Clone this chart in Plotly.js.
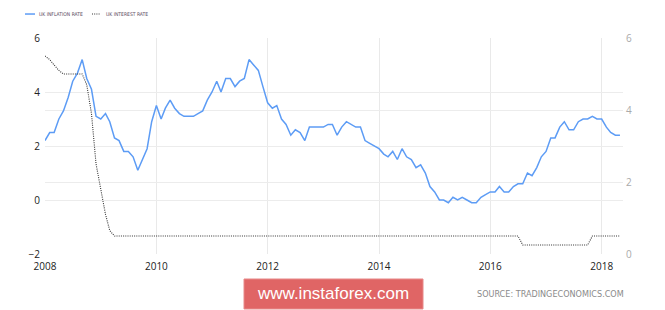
<!DOCTYPE html>
<html>
<head>
<meta charset="utf-8">
<script src="https://cdn.plot.ly/plotly-3.0.1.min.js"></script>
<style>
  html, body { margin: 0; padding: 0; background: #fff; }
  #chart { width: 665px; height: 310px; }
</style>
</head>
<body>
<div id="chart"></div>
<script>
// ---- Data (monthly, Jan 2008 – May 2018) ----
const startYear = 2008;
const inflation2008 = [2.2, 2.5, 2.5, 3.0, 3.3, 3.8, 4.4, 4.7, 5.2, 4.5, 4.1, 3.1];
const inflation2009 = [3.0, 3.2, 2.9, 2.3, 2.2, 1.8, 1.8, 1.6, 1.1, 1.5, 1.9, 2.9];
const inflation2010 = [3.5, 3.0, 3.4, 3.7, 3.4, 3.2, 3.1, 3.1, 3.1, 3.2, 3.3, 3.7];
const inflation2011 = [4.0, 4.4, 4.0, 4.5, 4.5, 4.2, 4.4, 4.5, 5.2, 5.0, 4.8, 4.2];
const inflation2012 = [3.6, 3.4, 3.5, 3.0, 2.8, 2.4, 2.6, 2.5, 2.2, 2.7, 2.7, 2.7];
const inflation2013 = [2.7, 2.8, 2.8, 2.4, 2.7, 2.9, 2.8, 2.7, 2.7, 2.2, 2.1, 2.0];
const inflation2014 = [1.9, 1.7, 1.6, 1.8, 1.5, 1.9, 1.6, 1.5, 1.2, 1.3, 1.0, 0.5];
const inflation2015 = [0.3, 0.0, 0.0, -0.1, 0.1, 0.0, 0.1, 0.0, -0.1, -0.1, 0.1, 0.2];
const inflation2016 = [0.3, 0.3, 0.5, 0.3, 0.3, 0.5, 0.6, 0.6, 1.0, 0.9, 1.2, 1.6];
const inflation2017 = [1.8, 2.3, 2.3, 2.7, 2.9, 2.6, 2.6, 2.9, 3.0, 3.0, 3.1, 3.0];
const inflation2018 = [3.0, 2.7, 2.5, 2.4, 2.4];

const interest2008 = [5.5, 5.4, 5.25, 5.1, 5.0, 5.0, 5.0, 5.0, 5.0, 4.7, 3.9, 2.5];
const interest2009 = [1.75, 1.1, 0.65, 0.5, 0.5, 0.5, 0.5, 0.5, 0.5, 0.5, 0.5, 0.5];
const interest2010 = [0.5, 0.5, 0.5, 0.5, 0.5, 0.5, 0.5, 0.5, 0.5, 0.5, 0.5, 0.5];
const interest2011 = [0.5, 0.5, 0.5, 0.5, 0.5, 0.5, 0.5, 0.5, 0.5, 0.5, 0.5, 0.5];
const interest2012 = [0.5, 0.5, 0.5, 0.5, 0.5, 0.5, 0.5, 0.5, 0.5, 0.5, 0.5, 0.5];
const interest2013 = [0.5, 0.5, 0.5, 0.5, 0.5, 0.5, 0.5, 0.5, 0.5, 0.5, 0.5, 0.5];
const interest2014 = [0.5, 0.5, 0.5, 0.5, 0.5, 0.5, 0.5, 0.5, 0.5, 0.5, 0.5, 0.5];
const interest2015 = [0.5, 0.5, 0.5, 0.5, 0.5, 0.5, 0.5, 0.5, 0.5, 0.5, 0.5, 0.5];
const interest2016 = [0.5, 0.5, 0.5, 0.5, 0.5, 0.5, 0.5, 0.25, 0.25, 0.25, 0.25, 0.25];
const interest2017 = [0.25, 0.25, 0.25, 0.25, 0.25, 0.25, 0.25, 0.25, 0.25, 0.25, 0.5, 0.5];
const interest2018 = [0.5, 0.5, 0.5, 0.5, 0.5];

const seriesNames = ['UK INFLATION RATE', 'UK INTEREST RATE'];
const xTickYears = ['2008', '2010', '2012', '2014', '2016', '2018'];
const leftTicks = [-2, 0, 2, 4, 6];
const rightTicks = [0, 2, 4, 6];

const inflation = [].concat(inflation2008, inflation2009, inflation2010, inflation2011,
  inflation2012, inflation2013, inflation2014, inflation2015, inflation2016,
  inflation2017, inflation2018);
const interest = [].concat(interest2008, interest2009, interest2010, interest2011,
  interest2012, interest2013, interest2014, interest2015, interest2016,
  interest2017, interest2018);

// month labels for each observation
const months = inflation.map((_, i) => {
  const y = startYear + Math.floor(i / 12);
  const m = (i % 12) + 1;
  return y + '-' + String(m).padStart(2, '0') + '-01';
});

const blue = '#5d9cf5';
const dotColor = '#333333';

const traces = [
  {
    x: months, y: inflation, type: 'scatter', mode: 'lines',
    name: seriesNames[0], yaxis: 'y',
    line: { color: blue, width: 1.5 }
  },
  {
    x: months, y: interest, type: 'scatter', mode: 'lines',
    name: seriesNames[1], yaxis: 'y2',
    line: { color: dotColor, width: 1.1, dash: '1px,1.2px' }
  }
];

const tickFont = { family: 'Open Sans, DejaVu Sans, sans-serif', size: 10, color: '#222' };
const legendFont = { family: 'Liberation Sans Narrow, DejaVu Sans Condensed, sans-serif', size: 5, color: '#5a4a60' };

const layout = {
  width: 665, height: 310,
  margin: { l: 45, r: 42, t: 38, b: 56, autoexpand: false },
  paper_bgcolor: '#ffffff', plot_bgcolor: '#ffffff',
  showlegend: false,
  xaxis: {
    type: 'date',
    range: ['2008-01-01', '2018-05-21'],
    tickvals: xTickYears.map(y => y + '-01-01'),
    ticktext: xTickYears,
    showgrid: true, gridcolor: '#e9e9e9', gridwidth: 1,
    zeroline: false, showline: false, ticks: '',
    tickfont: tickFont, ticklabelstandoff: 5
  },
  yaxis: {
    range: [-2, 6], tickvals: leftTicks,
    showgrid: true, gridcolor: '#ececec', zeroline: false, showline: false,
    ticks: '', tickfont: tickFont, ticklabelstandoff: 4
  },
  yaxis2: {
    range: [0, 6], tickvals: rightTicks, overlaying: 'y', side: 'right',
    showgrid: true, gridcolor: '#ececec', zeroline: false, showline: false,
    ticks: '', tickfont: { family: 'Open Sans, DejaVu Sans, sans-serif', size: 10, color: '#aaaaaa' },
    ticklabelstandoff: 2
  },
  shapes: [
    // legend samples
    { type: 'line', xref: 'paper', yref: 'paper', x0: -0.0346, x1: -0.0173, y0: 1.111, y1: 1.111,
      line: { color: blue, width: 1.5 } },
    { type: 'line', xref: 'paper', yref: 'paper', x0: 0.0813, x1: 0.0952, y0: 1.111, y1: 1.111,
      line: { color: dotColor, width: 1.1, dash: '1px,1.2px' } },
    // watermark box
    {
      type: 'rect', xref: 'paper', yref: 'paper',
      x0: 0.3443, x1: 0.654, y0: -0.1157, y1: -0.2546,
      fillcolor: '#e06565', line: { color: '#e88a8a', width: 1 }, layer: 'above'
    }
  ],
  annotations: [
    {
      xref: 'paper', yref: 'paper', x: -0.0138, y: 1.111,
      xanchor: 'left', yanchor: 'middle', showarrow: false,
      text: seriesNames[0], font: legendFont
    },
    {
      xref: 'paper', yref: 'paper', x: 0.102, y: 1.111,
      xanchor: 'left', yanchor: 'middle', showarrow: false,
      text: seriesNames[1], font: legendFont
    },
    {
      xref: 'paper', yref: 'paper', x: 0.499, y: -0.185,
      xanchor: 'center', yanchor: 'middle', showarrow: false,
      text: 'www.instaforex.com',
      font: { family: 'Liberation Sans, Arial, sans-serif', size: 17, color: '#ffffff' }
    },
    {
      xref: 'paper', yref: 'paper', x: 1.005, y: -0.185,
      xanchor: 'right', yanchor: 'middle', showarrow: false,
      text: 'SOURCE: TRADINGECONOMICS.COM',
      font: { family: 'DejaVu Sans Condensed, DejaVu Sans, sans-serif', size: 9, color: '#8a8a8a' }
    }
  ]
};

Plotly.newPlot('chart', traces, layout, { displayModeBar: false, staticPlot: true });
</script>
</body>
</html>
